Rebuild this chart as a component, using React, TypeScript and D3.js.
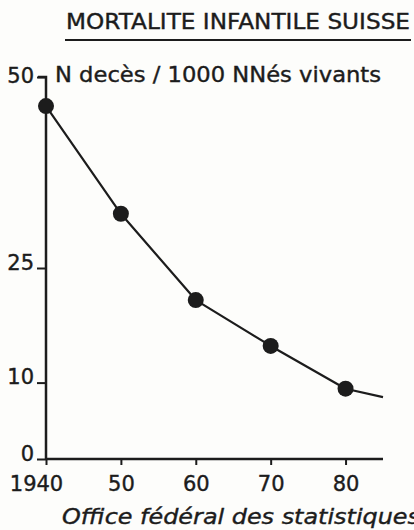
import * as d3 from 'd3';
import { useEffect, useRef } from 'react';

// infant deaths per 1000 live births, Switzerland
const years = [1940, 1950, 1960, 1970, 1980, 1985];
const rates = [46.2, 32.1, 20.8, 14.8, 9.2, 8.1];
const markerYears = [1940, 1950, 1960, 1970, 1980];
const yTicks = [0, 10, 25, 50];
const xTicks = [1940, 1950, 1960, 1970, 1980];
const xTickLabels = ['1940', '50', '60', '70', '80'];

const title = 'MORTALITE INFANTILE SUISSE';
const yTitle = 'N decès / 1000 NNés vivants';
const source = 'Office fédéral des statistiques';

export default function App() {
    const ref = useRef<SVGSVGElement | null>(null);

    useEffect(() => {
        const svg = d3.select(ref.current);
        svg.selectAll('*').remove();

        const width = 414;
        const height = 530;
        const ink = '#1c1c1c';
        const font = '"DejaVu Sans", sans-serif';

        const x = d3.scaleLinear().domain([1940, 1985]).range([46, 383]);
        const y = d3.scaleLinear().domain([0, 50]).range([459, 77]);

        svg.attr('width', width).attr('height', height)
            .style('display', 'block')
            .style('position', 'absolute')
            .style('left', 0)
            .style('top', 0);

        svg.append('rect').attr('width', width).attr('height', height).attr('fill', '#fdfdfb');

        // title + underline
        svg.append('text')
            .attr('x', 66).attr('y', 29)
            .attr('textLength', 344).attr('lengthAdjust', 'spacingAndGlyphs')
            .attr('font-family', font).attr('font-size', 22).attr('fill', ink)
            .attr('stroke', ink).attr('stroke-width', 0.4)
            .text(title);
        svg.append('line')
            .attr('x1', 65).attr('x2', 411).attr('y1', 40).attr('y2', 40)
            .attr('stroke', ink).attr('stroke-width', 2);

        svg.append('text')
            .attr('x', 55).attr('y', 82)
            .attr('textLength', 326).attr('lengthAdjust', 'spacingAndGlyphs')
            .attr('font-family', font).attr('font-size', 22).attr('fill', ink)
            .attr('stroke', ink).attr('stroke-width', 0.4)
            .text(yTitle);

        // axes
        const yAxis = svg.append('g')
            .attr('transform', `translate(${x(1940)},0)`)
            .call(d3.axisLeft(y).tickValues(yTicks).tickSize(9).tickPadding(3));
        const xAxis = svg.append('g')
            .attr('transform', `translate(0,${y(0)})`)
            .call(d3.axisBottom(x).tickValues(xTicks).tickSize(6).tickPadding(11)
                .tickFormat((_, i) => xTickLabels[i]));

        [yAxis, xAxis].forEach(g => {
            g.select('.domain').attr('stroke', ink).attr('stroke-width', 2.5);
            g.selectAll('.tick line').attr('stroke', ink).attr('stroke-width', 2);
            g.selectAll('.tick text')
                .attr('fill', ink)
                .attr('stroke', ink).attr('stroke-width', 0.4)
                .attr('font-family', font)
                .attr('font-size', 21);
        });
        yAxis.select('.domain').attr('d', `M-8,${y(50)}H0V${y(0)}`);
        yAxis.selectAll('.tick line').attr('x2', -9);
        yAxis.selectAll('.tick text').attr('x', -12).attr('dy', '0.05em');
        yAxis.selectAll<SVGTextElement, number>('.tick text')
            .filter(d => d === 50).attr('dy', '0.25em');
        xAxis.select('.domain').attr('d', `M${x(1940)},0H${x(1985)}`);
        xAxis.selectAll<SVGTextElement, number>('.tick text')
            .filter(d => d === 1940).attr('x', -10);

        // rate line
        const line = d3.line<number>()
            .x((_, i) => x(years[i]))
            .y(d => y(d));
        svg.append('path')
            .datum(rates)
            .attr('fill', 'none')
            .attr('stroke', ink)
            .attr('stroke-width', 2.2)
            .attr('stroke-linejoin', 'round')
            .attr('d', line);

        svg.append('g').selectAll('circle')
            .data(markerYears)
            .join('circle')
            .attr('cx', d => x(d))
            .attr('cy', d => y(rates[years.indexOf(d)]))
            .attr('r', 8)
            .attr('fill', ink);

        svg.append('text')
            .attr('x', 62).attr('y', 524)
            .attr('textLength', 358).attr('lengthAdjust', 'spacingAndGlyphs')
            .attr('font-family', font).attr('font-size', 22).attr('font-style', 'italic')
            .attr('fill', ink)
            .attr('stroke', ink).attr('stroke-width', 0.4)
            .text(source);
    }, []);

    return <svg ref={ref}></svg>;
}
